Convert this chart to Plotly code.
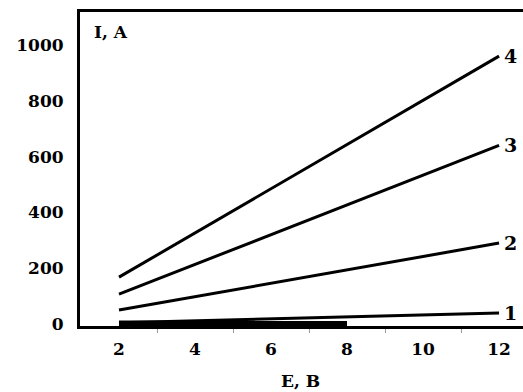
import plotly.graph_objects as go

E = [2, 4, 6, 8, 10, 12]
I1 = [5, 12, 19, 26, 33, 40]
I2 = [50, 98, 146, 194, 242, 290]
I3 = [107, 214, 320, 427, 533, 640]
I4 = [168, 326, 484, 642, 800, 960]
E0 = [2, 4, 6, 8]
I0 = [2, 2, 1, 1]
labels = ["1", "2", "3", "4"]

FONT = "DejaVu Serif"
BOLD = dict(family=FONT, size=17, color="black", weight="bold")
fig = go.Figure()
fig.add_trace(go.Scatter(x=E0, y=I0, mode="lines", line=dict(color="black", width=6), showlegend=False))
for ys in [I1, I2, I3, I4]:
    fig.add_trace(go.Scatter(x=E, y=ys, mode="lines", line=dict(color="black", width=3), showlegend=False))

for lab, ys in zip(labels, [I1, I2, I3, I4]):
    fig.add_annotation(x=E[-1], y=ys[-1], text=lab, showarrow=False, xanchor="left", xshift=3,
                       font=dict(family=FONT, size=19, color="black", weight="bold"))

fig.add_annotation(x=0, y=1, xref="paper", yref="paper", text="I, A", showarrow=False,
                   xanchor="left", yanchor="top", xshift=12, yshift=-8, font=BOLD)
fig.add_annotation(x=0.5, y=0, xref="paper", yref="paper", text="E, B", showarrow=False,
                   xanchor="center", yanchor="top", xshift=-1, yshift=-43, font=BOLD)

fig.update_layout(
    width=523, height=392, margin=dict(l=80, r=0, t=12, b=66, autoexpand=False),
    paper_bgcolor="white", plot_bgcolor="white",
    font=dict(family=FONT, size=16, color="black"),
    xaxis=dict(range=[0.974, 12.63], tickvals=[2, 4, 6, 8, 10, 12], showgrid=False, zeroline=False,
               showline=True, linewidth=3, linecolor="black", mirror=True, automargin=False,
               ticks="outside", ticklen=6, tickcolor="white", tickfont=BOLD,
               minor=dict(tickvals=[3, 5, 7, 9, 11], ticks="outside", ticklen=4, tickcolor="#999", tickwidth=1)),
    yaxis=dict(range=[-7, 1118], tickvals=[0, 200, 400, 600, 800, 1000], showgrid=False, zeroline=False,
               showline=True, linewidth=3, linecolor="black", automargin=False,
               ticks="outside", ticklen=10, tickcolor="white", tickfont=BOLD),
)
fig.write_html("out.html", config={"displayModeBar": False},
               post_script="document.body.style.margin='0';document.body.style.overflow='hidden';")
